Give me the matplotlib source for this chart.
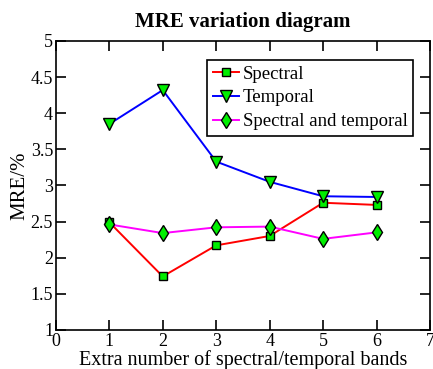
import matplotlib.pyplot as plt

bands = [1, 2, 3, 4, 5, 6]
spectral = [2.49, 1.74, 2.17, 2.30, 2.76, 2.73]
temporal = [3.85, 4.32, 3.33, 3.05, 2.85, 2.84]
spec_temp = [2.46, 2.34, 2.42, 2.43, 2.26, 2.35]

plt.rcParams["font.family"] = ["Liberation Serif", "DejaVu Serif"]
plt.rcParams["font.size"] = 12

fig = plt.figure(figsize=(4.33, 3.69), dpi=100)
ax = fig.add_axes([0.129, 0.106, 0.864, 0.783])

ax.plot(bands, spectral, color="red", lw=1.4, marker="s", ms=5.5,
        mfc="#00ee00", mec="black", mew=1, label="Spectral")
ax.plot(bands, temporal, color="blue", lw=1.4, marker="v", ms=8.5,
        mfc="#00ee00", mec="black", mew=1, label="Temporal")
ax.plot(bands, spec_temp, color="magenta", lw=1.4, marker="d", ms=8.5,
        mfc="#00ee00", mec="black", mew=1, label="Spectral and temporal")

ax.set_xlim(0, 7)
ax.set_ylim(1, 5)
ax.set_xticks(range(0, 8))
ax.set_yticks([1, 1.5, 2, 2.5, 3, 3.5, 4, 4.5, 5])
ax.set_yticklabels(["1", "1.5", "2", "2.5", "3", "3.5", "4", "4.5", "5"])
ax.tick_params(direction="in", top=True, right=True, length=7, width=1.2,
               labelsize=13, pad=2)
for s in ax.spines.values():
    s.set_linewidth(1.2)

ax.set_title("MRE variation diagram", fontweight="bold", fontsize=15, pad=10)
ax.set_xlabel("Extra number of spectral/temporal bands", fontsize=14.5, labelpad=0)
ax.set_ylabel("MRE/%", fontsize=15, labelpad=1)

leg = ax.legend(loc="upper right", bbox_to_anchor=(0.955, 0.934), fancybox=False,
                edgecolor="black", framealpha=1, fontsize=13.5, handlelength=1.4,
                handletextpad=0.2, borderpad=0.3, labelspacing=0.35,
                borderaxespad=0)
leg.get_frame().set_linewidth(1.2)

fig.savefig("out.png", dpi=100)
